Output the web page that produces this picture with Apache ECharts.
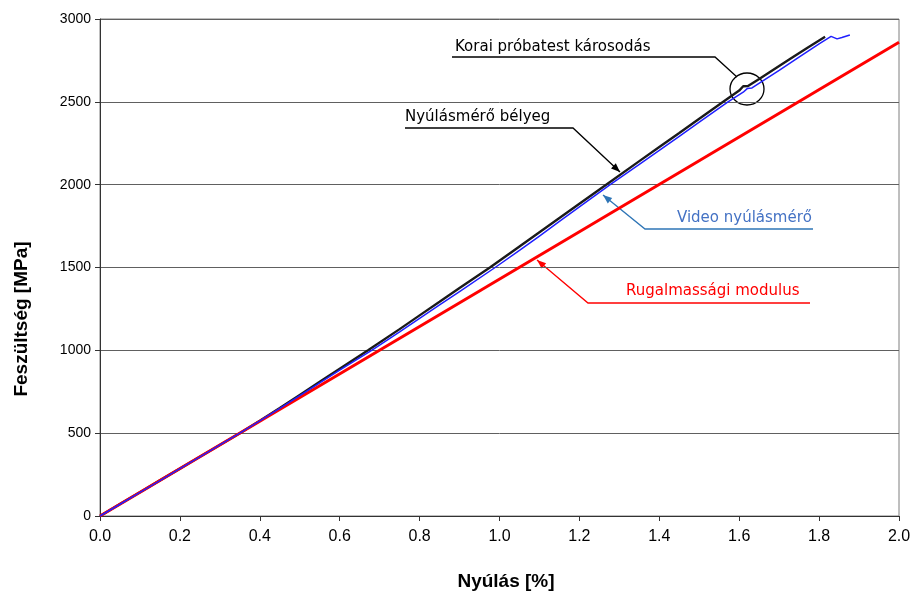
<!DOCTYPE html>
<html>
<head>
<meta charset="utf-8">
<script src="https://cdn.jsdelivr.net/npm/echarts@6/dist/echarts.min.js"></script>
<style>
  html, body { margin: 0; padding: 0; background: #fff; }
  #chart { width: 914px; height: 601px; }
</style>
</head>
<body>
<div id="chart"></div>
<script>
// Strain (%) / stress (MPa) readings for the three curves
var strainGaugeStrain = [0, 0.05, 0.10, 0.15, 0.20, 0.25, 0.30, 0.35, 0.40, 0.45, 0.50, 0.55, 0.60, 0.671,
  0.75, 0.80, 0.85, 0.90, 0.976, 1.05, 1.10, 1.15, 1.20, 1.267, 1.35, 1.40, 1.45, 1.50, 1.56,
  1.60, 1.610, 1.614, 1.622, 1.65, 1.70, 1.727, 1.77, 1.815];
var strainGaugeStress = [0, 72, 143, 215, 286, 358, 429, 500, 575, 652, 731, 810, 889, 1000,
  1128, 1211, 1293, 1376, 1500, 1627, 1713, 1799, 1885, 2000, 2142, 2227, 2312, 2398, 2500,
  2568, 2594, 2584, 2596, 2638, 2716, 2758, 2825, 2893];

var videoStrain = [0, 0.05, 0.10, 0.15, 0.20, 0.25, 0.30, 0.35, 0.40, 0.45, 0.50, 0.55, 0.60, 0.68,
  0.75, 0.80, 0.85, 0.90, 0.989, 1.05, 1.10, 1.15, 1.20, 1.277, 1.35, 1.40, 1.45, 1.50, 1.572,
  1.61, 1.620, 1.624, 1.632, 1.70, 1.745, 1.80, 1.83, 1.845, 1.857, 1.877];
var videoStress = [0, 71, 143, 214, 286, 357, 429, 500, 574, 649, 726, 803, 880, 1000,
  1112, 1193, 1274, 1355, 1500, 1603, 1690, 1778, 1866, 2000, 2123, 2207, 2292, 2377, 2500,
  2558, 2580, 2570, 2584, 2690, 2762, 2850, 2895, 2880, 2888, 2903];

var modulusStrain = [0, 2.0];
var modulusStress = [0, 2860];

var strainTicks = { min: 0, max: 2.0, step: 0.2 };
var stressTicks = { min: 0, max: 3000, step: 500 };

function pairs(xs, ys) {
  return xs.map(function (x, i) { return [x, ys[i]]; });
}

// Leader line with an optional filled arrowhead at its last point
function leader(points, color, width, withHead) {
  var parts = [{
    type: 'polyline',
    shape: { points: points },
    style: { stroke: color, lineWidth: width, fill: null },
    silent: true
  }];
  if (withHead) {
    var n = points.length;
    var tip = points[n - 1], from = points[n - 2];
    var dx = tip[0] - from[0], dy = tip[1] - from[1];
    var len = Math.sqrt(dx * dx + dy * dy);
    var ux = dx / len, uy = dy / len;
    var hl = 9, hw = 3.5;
    var bx = tip[0] - ux * hl, by = tip[1] - uy * hl;
    parts.push({
      type: 'polygon',
      shape: { points: [tip, [bx - uy * hw, by + ux * hw], [bx + uy * hw, by - ux * hw]] },
      style: { fill: color },
      silent: true
    });
  }
  return parts;
}

var noteFont = '15px "DejaVu Sans", sans-serif';
var titleFont = 'bold 19px "Liberation Sans", Arial, sans-serif';
var graphics = []
  .concat(leader([[452, 57], [715, 57], [737, 77]], '#000', 1.3, false))
  .concat(leader([[405, 128], [573, 128], [620, 172]], '#000', 1.3, true))
  .concat(leader([[813, 229], [645, 229], [603, 195]], '#2e75b6', 1.3, true))
  .concat(leader([[810, 303], [588, 303], [537, 260]], '#ff0000', 1.3, true))
  .concat([
    { type: 'ellipse', shape: { cx: 747, cy: 89, rx: 17, ry: 16 },
      style: { stroke: '#000', lineWidth: 1.3, fill: null }, silent: true },
    { type: 'text', x: 455, y: 47, style: { text: 'Korai próbatest károsodás', font: noteFont,
      fill: '#000', verticalAlign: 'middle' } },
    { type: 'text', x: 405, y: 117, style: { text: 'Nyúlásmérő bélyeg', font: noteFont,
      fill: '#000', verticalAlign: 'middle' } },
    { type: 'text', x: 677, y: 218, style: { text: 'Video nyúlásmérő', font: noteFont,
      fill: '#4472c4', verticalAlign: 'middle' } },
    { type: 'text', x: 626, y: 291, style: { text: 'Rugalmassági modulus', font: noteFont,
      fill: '#ff0000', verticalAlign: 'middle' } },
    { type: 'text', x: 22, y: 319, rotation: Math.PI / 2,
      style: { text: 'Feszültség [MPa]', font: titleFont,
        fill: '#000', align: 'center', verticalAlign: 'middle' } },
    { type: 'text', x: 506, y: 582,
      style: { text: 'Nyúlás [%]', font: titleFont,
        fill: '#000', align: 'center', verticalAlign: 'middle' } }
  ]);

var chart = echarts.init(document.getElementById('chart'), null, { renderer: 'canvas' });
chart.setOption({
  animation: false,
  backgroundColor: '#ffffff',
  grid: { left: 100, right: 15, top: 19, bottom: 85, show: true, borderColor: '#7f7f7f', borderWidth: 1 },
  xAxis: {
    type: 'value',
    min: strainTicks.min, max: strainTicks.max, interval: strainTicks.step,
    axisLine: { show: true, onZero: false, lineStyle: { color: '#333', width: 1 } },
    axisTick: { show: true, inside: false, length: 5, lineStyle: { color: '#333' } },
    axisLabel: { color: '#000', fontSize: 16, fontFamily: '"Liberation Sans", Arial, sans-serif',
      margin: 13, formatter: function (v) { return v.toFixed(1); } },
    splitLine: { show: false }
  },
  yAxis: {
    type: 'value',
    min: stressTicks.min, max: stressTicks.max, interval: stressTicks.step,
    axisLine: { show: true, lineStyle: { color: '#333', width: 1 } },
    axisTick: { show: true, inside: false, length: 5, lineStyle: { color: '#333' } },
    axisLabel: { color: '#000', fontSize: 14, fontFamily: '"Liberation Sans", Arial, sans-serif', margin: 9,
      formatter: function (v) { return String(v); } },
    splitLine: { show: true, lineStyle: { color: '#606060', width: 1 } }
  },
  series: [
    { name: 'Nyúlásmérő bélyeg', type: 'line', data: pairs(strainGaugeStrain, strainGaugeStress),
      showSymbol: false, lineStyle: { color: '#1a1a1a', width: 2.4 }, z: 2 },
    { name: 'Rugalmassági modulus', type: 'line', data: pairs(modulusStrain, modulusStress),
      showSymbol: false, lineStyle: { color: '#ff0000', width: 3 }, z: 3 },
    { name: 'Video nyúlásmérő', type: 'line', data: pairs(videoStrain, videoStress),
      showSymbol: false, lineStyle: { color: '#1f1fff', width: 1.5 }, z: 4 }
  ],
  graphic: graphics
});
</script>
</body>
</html>
